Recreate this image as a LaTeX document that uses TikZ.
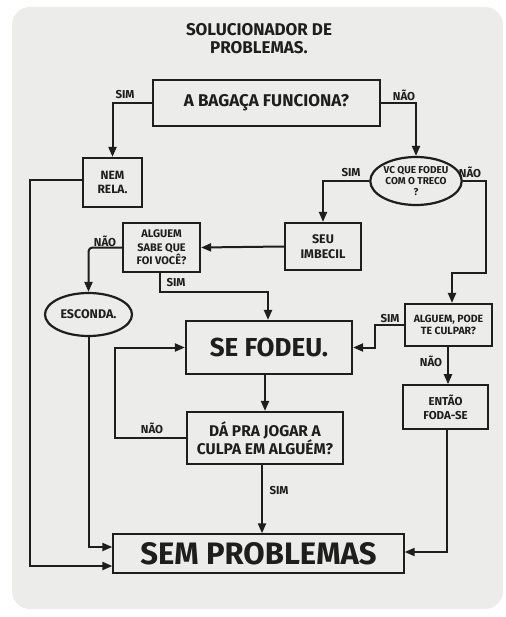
\documentclass[tikz,border=0pt]{standalone}
\usepackage{fontspec}
\setmainfont{Fira Sans}
\usetikzlibrary{arrows.meta,shapes.geometric,calc}
\definecolor{paper}{HTML}{ECECEA}
\definecolor{ink}{HTML}{1E1E1E}
\newcommand{\fsz}[2]{\bfseries\fontsize{#1}{#2}\selectfont}
\tikzset{
  box/.style={draw=ink,line width=2.2pt,rectangle,align=center,inner sep=0pt,text=ink},
  oval/.style={draw=ink,line width=2.2pt,ellipse,align=center,inner sep=0pt,text=ink},
  conn/.style={draw=ink,line width=2pt,-{Triangle[length=10pt,width=8pt]}},
  lbl/.style={text=ink,font=\fsz{11.5}{12},inner sep=0pt},
}
\begin{document}
\begin{tikzpicture}[x=1pt,y=-1pt]
\useasboundingbox (0,0) rectangle (505,617);
\fill[white] (0,0) rectangle (505,617);
\fill[paper,rounded corners=18pt] (12,7) rectangle (503,609);

\node[text=ink,align=center,font=\fsz{17}{18}] (title) at (259,39) {SOLUCIONADOR DE\\PROBLEMAS.};

\node[box,minimum width=227pt,minimum height=46pt,font=\fsz{17}{18}] (A) at (266.5,103) {A BAGAÇA FUNCIONA?};
\node[box,minimum width=59pt,minimum height=49pt,font=\fsz{12}{14}] (nem) at (112.5,182.5) {NEM\\RELA.};
\node[oval,minimum width=88pt,minimum height=48pt,font=\fsz{10}{11}] (vc) at (416,181) {VC QUE FODEU\\COM O TRECO\\?};
\node[box,minimum width=76pt,minimum height=47pt,font=\fsz{12.5}{15}] (seu) at (323,246.5) {SEU\\IMBECIL};
\node[box,minimum width=77pt,minimum height=49pt,font=\fsz{11}{13.5}] (sabe) at (161.5,247.5) {ALGUEM\\SABE QUE\\FOI VOCÊ?};
\node[oval,minimum width=87pt,minimum height=43pt,font=\fsz{12.5}{14}] (esc) at (88.5,314.5) {ESCONDA.};
\node[box,minimum width=166pt,minimum height=53pt,font=\fsz{26}{30}] (fod) at (269,347.5) {SE FODEU.};
\node[box,minimum width=156pt,minimum height=52pt,font=\fsz{15.5}{15.5}] (da) at (265,438) {DÁ PRA JOGAR A\\CULPA EM ALGUÉM?};
\node[box,line width=1.3pt,minimum width=291pt,minimum height=39pt,font=\fsz{31}{32}] (sem) at (258.5,553.5) {SEM PROBLEMAS};
\node[box,minimum width=87pt,minimum height=42pt,font=\fsz{10.5}{12}] (pode) at (448.5,325) {ALGUEM, PODE\\TE CULPAR?};
\node[box,line width=1.6pt,minimum width=85pt,minimum height=44pt,font=\fsz{11.5}{14}] (entao) at (445.5,407) {ENTÃO\\FODA-SE};

\coordinate (c1) at (30,180);
\coordinate (c2) at (30,566);
\coordinate (c3) at (486,181);
\coordinate (c4) at (486,273);
\coordinate (c5) at (452,273);
\coordinate (c6) at (160,292);
\coordinate (c7) at (268,292);
\coordinate (c8) at (115,438);
\coordinate (c9) at (115,347.5);
\coordinate (c10) at (375,325);
\coordinate (c11) at (375,347.5);
\coordinate (c12) at (447,552);

\draw[conn] (A.west) -| (nem.north);
\node[lbl] (l1) at (125,95) {SIM};
\draw[conn] (A.east) -| (vc.north);
\node[lbl] (l2) at (404,95) {NÃO};
\draw[conn] (vc.west) -| (seu.north);
\node[lbl] (l3) at (351,173) {SIM};
\draw[conn] (vc.east) -- (c3) -- (c4) -- (c5) -- (c5 |- pode.north);
\node[lbl] (l4) at (470,172) {NÃO};
\draw[conn] (seu.west) -- (sabe.east);
\draw[conn,rounded corners=4pt] (sabe.west) -| (esc.north);
\node[lbl] (l5) at (105,241) {NÃO};
\draw[conn] (c6 |- sabe.south) -- (c6) -- (c7) -- (c7 |- fod.north);
\node[lbl] (l6) at (176,283) {SIM};
\draw[conn] (esc.south) |- ([yshift=6.5pt]sem.west);
\draw[conn] (nem.west |- c1) -- (c1) -- (c2) -- ([yshift=-12.5pt]sem.west);
\draw[conn] (da.north |- fod.south) -- (da.north);
\draw[conn] (da.west) -- (c8) -- (c9) -- (fod.west);
\node[lbl] (l7) at (152,428) {NÃO};
\draw[conn] ([xshift=-3pt]da.south) -- ([xshift=-3pt]da.south |- sem.north);
\node[lbl] (l8) at (279,491) {SIM};
\draw[conn] (pode.west) -- (c10) -- (c11) -- (fod.east);
\node[lbl] (l9) at (390,319) {SIM};
\draw[conn] ([xshift=-0.5pt]pode.south) -- ([xshift=-0.5pt]pode.south |- entao.north);
\node[lbl] (l10) at (431,361) {NÃO};
\draw[conn] (c12 |- entao.south) -- (c12) -- (c12 -| sem.east);
\end{tikzpicture}
\end{document}
